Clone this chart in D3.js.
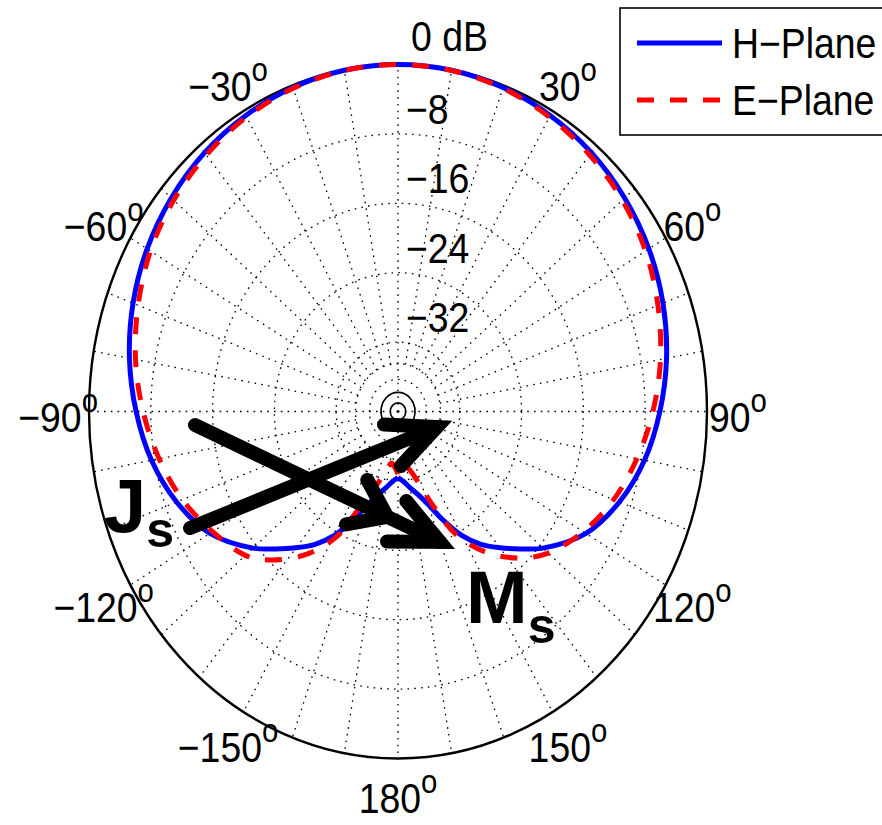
<!DOCTYPE html>
<html>
<head>
<meta charset="utf-8">
<script src="https://cdn.jsdelivr.net/npm/d3@7"></script>
<style>
  html, body { margin: 0; padding: 0; background: #fff; }
  svg { display: block; }
  text { font-family: "Liberation Sans", Arial, Helvetica, sans-serif; fill: #000; }
</style>
</head>
<body>
<svg id="chart" width="882" height="825"></svg>
<script>
// ---- pattern data (angle in degrees, 0 = broadside up, clockwise positive; level in dB) ----
const hAngles = [-180,-175,-170,-165,-160,-155,-150,-145,-140,-135,-130,-120,-110,-100,-90,-80,-70,-60,-50,-40,-30,-20,-10,
                 0,10,20,30,40,50,60,70,80,90,100,110,120,130,135,140,145,150,155,160,165,170,175,180];
const hPlane  = [-32.4,-31.9,-31.1,-30.1,-28.6,-26.2,-23.5,-21.3,-19.5,-17.6,-15.5,-11.9,-9.5,-7.6,-6.1,-4.7,-3.5,-2.5,-1.7,-1.05,-0.6,-0.25,-0.05,
                 0,-0.05,-0.25,-0.6,-1.05,-1.7,-2.5,-3.5,-4.7,-6.1,-7.6,-9.5,-11.9,-15.5,-17.6,-19.5,-21.3,-23.5,-26.2,-28.6,-30.1,-31.1,-31.9,-32.4];

const eAngles = [-180,-176,-172,-168,-164,-159,-155,-151,-144,-136,-130,-120,-110,-100,-90,-80,-70,-60,-50,-40,-30,-20,-10,
                 0,10,20,30,40,50,60,70,80,90,100,110,120,130,137,145,152,157,161,166,172,176,180];
const ePlane  = [-32.8,-33.6,-34.0,-33.2,-31.9,-29.6,-27.2,-23.4,-19.6,-16.2,-14.2,-12.3,-10.3,-8.6,-7.0,-5.5,-4.2,-3.0,-2.1,-1.4,-0.8,-0.35,-0.08,
                 0,-0.08,-0.35,-0.8,-1.4,-2.1,-3.0,-4.2,-5.5,-7.0,-8.6,-10.3,-12.3,-14.6,-16.9,-20.2,-23.9,-28.0,-30.8,-32.8,-33.8,-33.6,-32.8];

// ---- axis definitions ----
const dbDomain   = [-40, 0];
const ringLevels = [-32, -24, -16, -8];          // dotted rings
const ringLabels = ["\u221232", "\u221224", "\u221216", "\u22128", "0 dB"];
const ringLabelLevels = [-32, -24, -16, -8, 0];
const innerRings = [-37.8, -36.3, -34.5];        // fine rings near the origin
const innerSolid = [-39.0, -37.8];
const spokeAngles = d3.range(0, 360, 10);
const angleTicks  = [-30, 30, -60, 60, -90, 90, -120, 120, -150, 150, 180];
const angleTickText = ["\u221230", "30", "\u221260", "60", "\u221290", "90", "\u2212120", "120", "\u2212150", "150", "180"];

// current-source arrows, in normalised plot units [x, y] (tail, tip) and head positions along the shaft
const arrowJ = [[-0.673, -0.336], [0.126, -0.045]];
const arrowM = [[-0.657, -0.039], [0.136, -0.376]];
const headsJ = [{ at: 1, len: 53, spread: 25 }];
const headsM = [{ at: 1, len: 53, spread: 25 }, { at: 0.785, len: 42, spread: 36 }];

const legendNames = ["H\u2212Plane", "E\u2212Plane"];

// ---- geometry ----
const cx = 398, cy = 411.5, rx = 309, ry = 347;
const textSX = 0.89;   // axis glyphs are horizontally condensed like the plot itself

const svg = d3.select("#chart");
const xN = d3.scaleLinear().domain([-1, 1]).range([cx - rx, cx + rx]);
const yN = d3.scaleLinear().domain([-1, 1]).range([cy + ry, cy - ry]);
const rS = d3.scaleLinear().domain(dbDomain).range([0, 1]).clamp(true);

function pt(angDeg, rNorm) {
  const a = angDeg * Math.PI / 180;
  return [xN(rNorm * Math.sin(a)), yN(rNorm * Math.cos(a))];
}

// text helper (optionally condensed)
function addText(parent, x, y, opts) {
  const sx = opts.sx === undefined ? textSX : opts.sx;
  const g = parent.append("g").attr("transform", `translate(${x},${y}) scale(${sx},1)`);
  const t = g.append("text")
    .attr("font-size", opts.size)
    .attr("font-weight", opts.weight || "normal")
    .attr("text-anchor", opts.anchor || "start");
  t.append("tspan").text(opts.text);
  if (opts.sup) {
    t.append("tspan").attr("font-size", opts.supSize).attr("dy", -opts.supShift).text(opts.sup);
  }
  if (opts.sub) {
    t.append("tspan").attr("font-size", opts.subSize).attr("dy", opts.subShift).text(opts.sub);
  }
  return t;
}

const grid = svg.append("g");
const dotted = { stroke: "#000", "stroke-width": 1.3, "stroke-dasharray": "1.6,5.2", fill: "none" };

// spokes
spokeAngles.forEach(a => {
  const through = (a % 90 === 0);
  const p0 = pt(a, through ? 0 : rS(-34.5));
  const p1 = pt(a, 1);
  const l = grid.append("line").attr("x1", p0[0]).attr("y1", p0[1]).attr("x2", p1[0]).attr("y2", p1[1]);
  Object.entries(dotted).forEach(([k, v]) => l.attr(k, v));
});

// dotted rings
ringLevels.concat(innerRings).forEach(db => {
  const e = grid.append("ellipse").attr("cx", cx).attr("cy", cy)
    .attr("rx", rx * rS(db)).attr("ry", ry * rS(db));
  Object.entries(dotted).forEach(([k, v]) => e.attr(k, v));
});
innerSolid.forEach(db => {
  grid.append("ellipse").attr("cx", cx).attr("cy", cy)
    .attr("rx", rx * rS(db)).attr("ry", ry * rS(db))
    .attr("fill", "none").attr("stroke", "#000").attr("stroke-width", 1.6);
});

// outer boundary (0 dB)
grid.append("ellipse").attr("cx", cx).attr("cy", cy).attr("rx", rx).attr("ry", ry)
  .attr("fill", "none").attr("stroke", "#000").attr("stroke-width", 2.4);

// radial level labels
ringLabelLevels.forEach((db, i) => {
  const y = yN(rS(db)) - (db === 0 ? 14 : 10);
  addText(svg, cx + (db === 0 ? 13 : 8), y, { text: ringLabels[i], size: 42 });
});

// angle labels
angleTicks.forEach((a, i) => {
  const p = pt(a, 1.1);
  addText(svg, p[0], p[1] + 20, { text: angleTickText[i], size: 42, anchor: "middle",
    sup: "o", supSize: 33, supShift: 20 });
});

// pattern curves
const line = d3.line().x(d => d[0]).y(d => d[1]).curve(d3.curveCatmullRom.alpha(0.5));
const hPts = hAngles.map((a, i) => pt(a, rS(hPlane[i])));
const ePts = eAngles.map((a, i) => pt(a, rS(ePlane[i])));

svg.append("path").attr("d", line(hPts)).attr("fill", "none")
  .attr("stroke", "#0000ff").attr("stroke-width", 5);
svg.append("path").attr("d", line(ePts)).attr("fill", "none")
  .attr("stroke", "#ff0000").attr("stroke-width", 5).attr("stroke-dasharray", "17,16");

// arrows
function drawArrow(seg, heads) {
  const t = [xN(seg[0][0]), yN(seg[0][1])];
  const h = [xN(seg[1][0]), yN(seg[1][1])];
  const ang = Math.atan2(h[1] - t[1], h[0] - t[0]);
  const g = svg.append("g").attr("stroke", "#000").attr("stroke-width", 14).attr("fill", "none");
  g.append("path").attr("d", d3.line()([t, h])).attr("stroke-linecap", "round");
  heads.forEach(hd => {
    const tip = [t[0] + (h[0] - t[0]) * hd.at, t[1] + (h[1] - t[1]) * hd.at];
    const s = hd.spread * Math.PI / 180;
    const b1 = [tip[0] - hd.len * Math.cos(ang - s), tip[1] - hd.len * Math.sin(ang - s)];
    const b2 = [tip[0] - hd.len * Math.cos(ang + s), tip[1] - hd.len * Math.sin(ang + s)];
    g.append("path").attr("d", d3.line()([b1, tip, b2]))
      .attr("stroke-linecap", "round").attr("stroke-linejoin", "miter").attr("stroke-miterlimit", 10);
  });
}
drawArrow(arrowJ, headsJ);
drawArrow(arrowM, headsM);

// source labels
addText(svg, 104, 532, { text: "J", size: 76, weight: "bold", sx: 1, sub: "s", subSize: 50, subShift: 15 });
addText(svg, 466, 623, { text: "M", size: 74, weight: "bold", sx: 1, sub: "s", subSize: 50, subShift: 20 });

// legend
const lg = svg.append("g");
lg.append("rect").attr("x", 620).attr("y", 8).attr("width", 290).attr("height", 127)
  .attr("fill", "#fff").attr("stroke", "#000").attr("stroke-width", 1.6);
const legendStyles = [
  { color: "#0000ff", dash: null },
  { color: "#ff0000", dash: "17,16" }
];
legendNames.forEach((name, i) => {
  const y = 43 + i * 57;
  const l = lg.append("line").attr("x1", 637).attr("x2", 722).attr("y1", y).attr("y2", y)
    .attr("stroke", legendStyles[i].color).attr("stroke-width", 5);
  if (legendStyles[i].dash) l.attr("stroke-dasharray", legendStyles[i].dash);
  addText(lg, 732, y + 14.5, { text: name, size: 42 });
});
</script>
</body>
</html>
